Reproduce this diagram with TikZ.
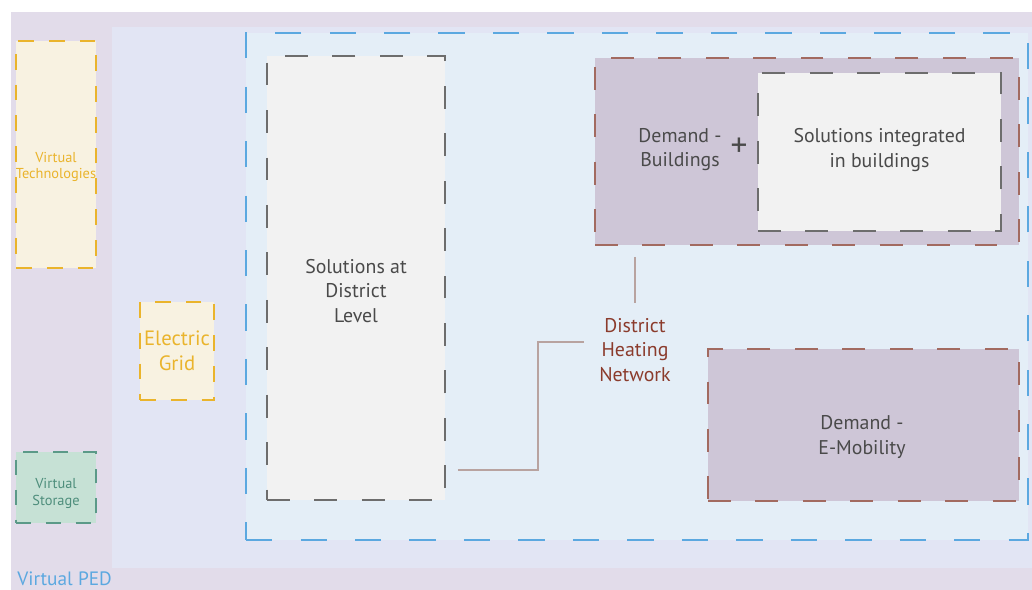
\documentclass[tikz,border=0pt]{standalone}
\usepackage{fontspec}
\setmainfont{PT Sans}
\definecolor{outerbg}{HTML}{E2DCEA}
\definecolor{innerbg}{HTML}{E2E5F4}
\definecolor{bluefill}{HTML}{E4EEF7}
\definecolor{bluedash}{HTML}{5BA8E0}
\definecolor{orangec}{HTML}{EAB42C}
\definecolor{orangefill}{HTML}{F8F2E1}
\definecolor{greenfill}{HTML}{C6E1D5}
\definecolor{greendash}{HTML}{5B9A88}
\definecolor{greentext}{HTML}{4E8E7C}
\definecolor{greyfill}{HTML}{F2F2F2}
\definecolor{greydash}{HTML}{6D6D6D}
\definecolor{purplefill}{HTML}{CEC6D7}
\definecolor{browndash}{HTML}{A26A60}
\definecolor{darktext}{HTML}{4A4A4A}
\definecolor{dhntext}{HTML}{8B3B2C}
\definecolor{connc}{HTML}{B8A3A0}
\tikzset{
  dbox/.style={rectangle, line width=1.1pt, inner sep=0pt, align=center},
  orangebox/.style={dbox, fill=orangefill, draw=orangec, text=orangec, dash pattern=on 9pt off 8.5pt},
  greenbox/.style={dbox, fill=greenfill, draw=greendash, text=greentext, dash pattern=on 8.5pt off 8.5pt},
  greybox/.style={dbox, fill=greyfill, draw=greydash, text=darktext, dash pattern=on 13pt off 14pt},
  purplebox/.style={dbox, fill=purplefill, draw=browndash, text=darktext, dash pattern=on 13pt off 14pt},
  bluebox/.style={dbox, fill=bluefill, draw=bluedash, dash pattern=on 15pt off 16pt},
  maintext/.style={font=\fontsize{11.3}{13.9}\selectfont, align=center, text=darktext},
  smalltext/.style={font=\fontsize{8.2}{9}\selectfont, align=center},
  conn/.style={draw=connc, line width=0.7pt},
}
\begin{document}
\begin{tikzpicture}[x=0.02cm, y=-0.02cm]
\useasboundingbox (0,0) rectangle (1032,590);
\clip (0,0) rectangle (1032,590);
\fill[white] (0,0) rectangle (1032,590);
\fill[outerbg] (11,12) rectangle (1032,590);
\fill[innerbg] (112,27) rectangle (1032,568);

\node[bluebox, minimum width=15.64cm, minimum height=10.14cm] (ped) at (637,286.5) {};

\node[orangebox, minimum width=1.6cm, minimum height=4.54cm] (vt) at (56,154.5) {};
\node[smalltext, text=orangec] (vttext) at (56,167) {Virtual\\Technologies};
\node[orangebox, font=\fontsize{11.8}{14}\selectfont, minimum width=1.48cm, minimum height=1.96cm] (grid) at (177,351) {Electric\\Grid};
\node[greenbox, minimum width=1.6cm, minimum height=1.42cm] (vs) at (56,487.5) {};
\node[smalltext, font=\fontsize{8.2}{9.6}\selectfont, text=greentext] (vstext) at (56,493.5) {Virtual\\Storage};

\node[greybox, minimum width=3.56cm, minimum height=8.88cm] (sol) at (356,278) {};
\node[maintext] (soltext) at (356,291) {Solutions at\\District\\Level};

\node[purplebox, minimum width=8.48cm, minimum height=3.74cm] (build) at (807,151.5) {};
\node[greybox, minimum width=4.86cm, minimum height=3.16cm] (intb) at (879.5,152) {};
\node[maintext] (intbtext) at (879.5,150) {Solutions integrated\\in buildings};
\node[maintext] (demb) at (680,149.5) {Demand -\\Buildings};
\node[font=\fontsize{19}{19}\selectfont\addfontfeature{}, text=darktext] (plus) at (739,147) {+};

\node[purplebox, minimum width=6.22cm, minimum height=3.04cm] (emob) at (863.5,425) {};
\node[maintext] (emobtext) at (862,437) {Demand -\\E-Mobility};

\node[maintext, text=dhntext, inner sep=2pt] (dhn) at (635,350) {District\\Heating\\Network};

\coordinate (c1) at (538,470);
\coordinate (c2) at (538,342);
\draw[conn, shorten <=0.22cm, shorten >=0.24cm] (build.south -| dhn.north) -- (dhn.north);
\draw[conn] ([xshift=0.24cm]sol.east |- c1) -- (c1) -- (c2) -- ([xshift=-0.22cm]dhn.west |- c2);

\node[anchor=base west, inner sep=0pt, text=bluedash, font=\fontsize{11}{13}\selectfont] (vped) at (17,586) {Virtual PED};
\end{tikzpicture}
\end{document}
